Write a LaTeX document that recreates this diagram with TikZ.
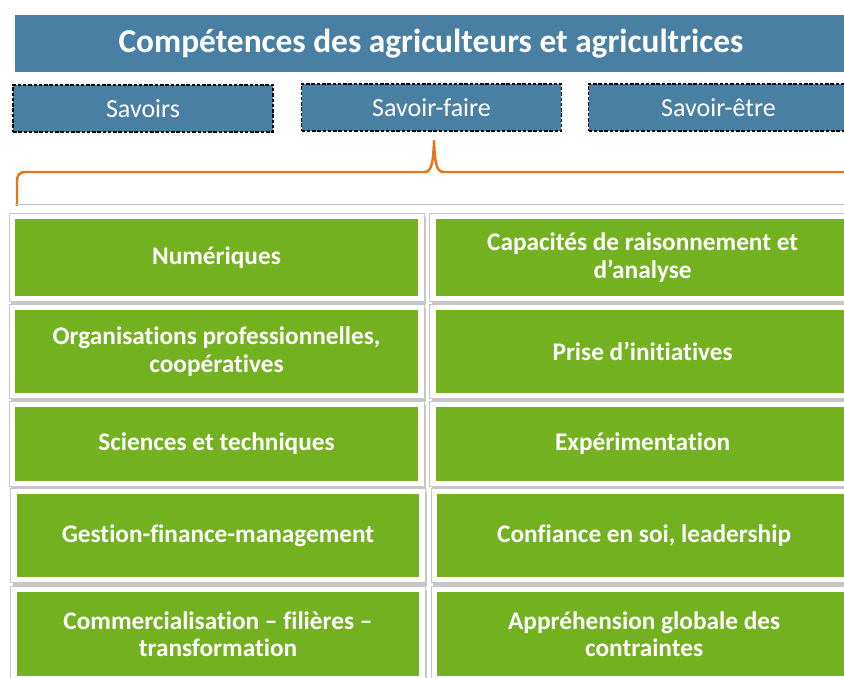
\documentclass[tikz,border=0pt]{standalone}
\usepackage{fontspec}
\setmainfont{Carlito}[Ligatures=NoCommon]
\usetikzlibrary{positioning, shadows}

\definecolor{bandblue}{HTML}{4A7FA4}
\definecolor{leafgreen}{HTML}{74B121}
\definecolor{braceorange}{HTML}{E8751A}

\tikzset{
  titlebar/.style={fill=bandblue, text=white, inner sep=0pt,
    minimum width=16.64cm, minimum height=1.14cm,
    font=\fontsize{19}{23}\selectfont\bfseries},
  kindbox/.style={fill=bandblue, text=white, inner sep=0pt,
    draw=black, line width=1pt, dash pattern=on 2pt off 1pt,
    minimum width=5.2cm, minimum height=0.94cm,
    font=\fontsize{14.8}{18}\selectfont},
  % white frame with a green panel inset
  cell/.style={fill=white, draw=black!22, line width=0.4pt,
    drop shadow={shadow xshift=0.04cm, shadow yshift=-0.07cm, opacity=0.45},
    path picture={\fill[leafgreen]
      ([shift={(0.125cm,-0.11cm)}]path picture bounding box.north west) rectangle
      ([shift={(-0.125cm,0.11cm)}]path picture bounding box.south east);},
    text=white, align=center, inner sep=0pt,
    font=\fontsize{14.4}{15.5}\selectfont\bfseries},
  leftcell/.style={cell, minimum width=8.3cm},
  rightcell/.style={cell, minimum width=8.52cm, right=0.1cm of #1},
  brace/.style={braceorange, line width=1.4pt, line join=round}
}

\begin{document}
\begin{tikzpicture}[x=0.02cm, y=-0.02cm]
\useasboundingbox (0,0) rectangle (844,678);
\clip (0,0) rectangle (844,678);

% heading and the three kinds of skills
\node[titlebar] (title) at (431,43.5) {Compétences des agriculteurs et agricultrices};
\node[kindbox] (savoirs) at (143,108.5) {Savoirs};
\node[kindbox] (faire) at (431.5,107.5) {Savoir-faire};
\node[kindbox] (etre) at (718.5,107.5) {Savoir-être};

% brace under savoir-faire
\draw[brace] (17,206) -- (17,182) .. controls (17,175) and (19,172) .. (26,172)
  -- (424,172) .. controls (431,172) and (433,166) .. (434,141)
  .. controls (435,166) and (437,172) .. (444,172) -- (850,172);
\draw[black!25, line width=0.5pt] (15,204.5) -- (850,204.5);

% left column
\node[leftcell, minimum height=1.76cm] (num) at (216.5,257.5) {Numériques};
\node[leftcell, minimum height=1.88cm] (orga) at (216.5,351.5) {Organisations professionnelles,\\coopératives};
\node[leftcell, minimum height=1.70cm] (sci) at (216.5,444) {Sciences et techniques};
\node[leftcell, minimum height=1.88cm] (gest) at (218,535.5) {Gestion-finance-management};
\node[leftcell, minimum height=1.92cm] (comm) at (218,634) {Commercialisation -- filières --\\transformation};

% right column
\node[rightcell=num, minimum height=1.76cm] (raison) {Capacités de raisonnement et\\d’analyse};
\node[rightcell=orga, minimum height=1.88cm] (init) {Prise d’initiatives};
\node[rightcell=sci, minimum height=1.70cm] (exp) {Expérimentation};
\node[rightcell=gest, minimum height=1.88cm] (conf) {Confiance en soi, leadership};
\node[rightcell=comm, minimum height=1.92cm] (appr) {Appréhension globale des\\contraintes};
\end{tikzpicture}
\end{document}
